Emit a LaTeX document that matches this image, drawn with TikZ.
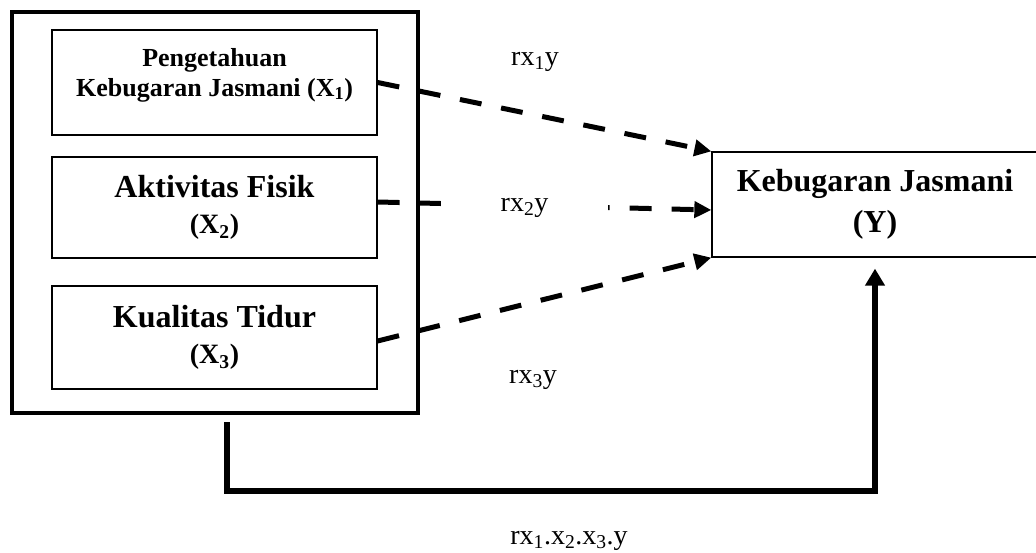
\documentclass[tikz,border=0pt]{standalone}
\usepackage{fontspec}
\setmainfont{Liberation Serif}
\usetikzlibrary{arrows.meta,calc}
\begin{document}
\begin{tikzpicture}[x=1pt,y=-1pt,
  inbox/.style={draw, line width=1.3pt, minimum width=325pt, inner sep=0pt},
  outerbox/.style={draw, line width=4.5pt, minimum width=406pt, minimum height=401pt, inner sep=0pt},
  dasharrow/.style={line width=5pt, dash pattern=on 22pt off 20pt, -{Triangle[length=17pt,width=16pt]}},
  solidarrow/.style={line width=5.5pt, -{Triangle[length=17pt,width=19pt]}},
  lab/.style={font=\fontsize{28}{30}\selectfont, inner sep=0pt},
  btext/.style={align=center, font=\fontsize{32}{36}\selectfont\bfseries, inner sep=0pt}
]
\useasboundingbox (0,0) rectangle (1036,553);

% outer group box
\node[outerbox] (grp) at (215,212.5) {};

% inner boxes
\node[inbox, minimum height=105pt] (x1) at (214.5,82.5) {};
\node[align=center, font=\fontsize{26}{30}\selectfont\bfseries, inner sep=0pt] (t1) at (214.5,75)
  {Pengetahuan\\Kebugaran Jasmani (X\textsubscript{1})};
\node[inbox, minimum height=101pt, btext] (x2) at (214.5,207.5)
  {Aktivitas Fisik\\\fontsize{28}{36}\selectfont(X\textsubscript{2})};
\node[inbox, minimum height=103pt, btext] (x3) at (214.5,337.5)
  {Kualitas Tidur\\\fontsize{28}{36}\selectfont(X\textsubscript{3})};

% dependent variable box
\node[draw, line width=1.3pt, minimum width=326pt, minimum height=105pt, btext,
      font=\fontsize{32}{41}\selectfont\bfseries] (Y) at (875,204.5)
  {Kebugaran Jasmani\\(Y)};

% dashed arrows
\draw[dasharrow] (x1.east) -- (Y.north west);
\draw[dasharrow] ([yshift=5.5pt]x2.east) -- ([yshift=-5.5pt]Y.west);
\draw[dasharrow] ([yshift=-3.5pt]x3.east) -- (Y.south west);

% labels
\node[lab] (l1) at (535,62) {rx\textsubscript{1}y};
\node[lab, fill=white, minimum width=167pt, minimum height=22pt] (l2) at (524.5,208) {rx\textsubscript{2}y};
\node[lab] (l3) at (533,380) {rx\textsubscript{3}y};

% joint connector
\coordinate (c0) at (227,422);
\coordinate (c1) at (227,491);
\draw[solidarrow] (c0) -- (c1) -| ([yshift=-11pt]Y.south);
\node[lab] (l4) at (569,541) {rx\textsubscript{1}.x\textsubscript{2}.x\textsubscript{3}.y};
\end{tikzpicture}
\end{document}
